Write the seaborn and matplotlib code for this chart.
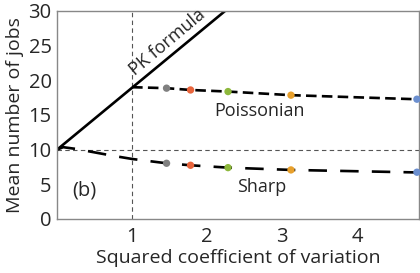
import numpy as np
import pandas as pd
import matplotlib
matplotlib.use('Agg')
import matplotlib.pyplot as plt
import seaborn as sns

sns.set_style('white')
plt.rcParams['font.family'] = ['Open Sans', 'DejaVu Sans']

# PK formula (straight line from the origin of the plot)
pk_x = [0.0, 2.6]
pk_y = [10.0, 33.2]

# Poissonian curve starts where the PK line meets cv^2 = 1
pois_x = [1.0, 1.46, 1.78, 2.28, 3.12, 4.83]
pois_y = [19.0, 18.86, 18.6, 18.37, 17.85, 17.25]

sharp_x = [0.0, 0.08, 0.25, 0.5, 0.75, 1.0, 1.46, 1.78, 2.28, 3.12, 4.83]
sharp_y = [10.0, 10.35, 10.1, 9.6, 9.1, 8.65, 8.03, 7.74, 7.4, 7.07, 6.7]

# coloured markers for the simulated distributions
pt_x = [1.46, 1.78, 2.28, 3.12, 4.8]
pt_pois = [18.86, 18.6, 18.37, 17.85, 17.27]
pt_sharp = [8.03, 7.74, 7.4, 7.07, 6.74]
pt_colors = ['#808080', '#e8643c', '#8db83c', '#e8a02c', '#6b8fcf']

fig = plt.figure(figsize=(4.2, 2.73), dpi=100)
ax = fig.add_axes([0.136, 0.198, 0.862, 0.762])

ax.axvline(1, color='#555555', lw=0.8, ls=(0, (4, 3)), zorder=1)
ax.axhline(10, color='#555555', lw=0.8, ls=(0, (4, 3)), zorder=1)

sns.lineplot(x=pk_x, y=pk_y, ax=ax, color='black', lw=1.9, zorder=2)
sns.lineplot(x=pois_x, y=pois_y, ax=ax, color='black', lw=1.9, zorder=2,
             linestyle=(0, (4, 2)))
sns.lineplot(x=sharp_x, y=sharp_y, ax=ax, color='black', lw=1.9, zorder=2,
             linestyle=(0, (7, 5)))

pts = pd.DataFrame({'x': pt_x * 2, 'y': pt_pois + pt_sharp,
                    'c': list(range(5)) * 2})
sns.scatterplot(data=pts, x='x', y='y', hue='c', palette=pt_colors, s=28,
                edgecolor='none', legend=False, ax=ax, zorder=3, clip_on=False)

ax.set_xlim(0, 4.83)
ax.set_ylim(0, 30)
ax.set_xticks([1, 2, 3, 4])
ax.set_yticks([0, 5, 10, 15, 20, 25, 30])
ax.tick_params(direction='in', length=3, color='#888888', labelsize=14.5)
ax.tick_params(axis='x', pad=6)
ax.tick_params(axis='y', pad=4)
for s in ax.spines.values():
    s.set_color('#888888')
    s.set_linewidth(1.0)

ax.set_xlabel('Squared coefficient of variation', fontsize=14, labelpad=1)
ax.set_ylabel('Mean number of jobs', fontsize=14, labelpad=3)

ax.text(1.04, 20.6, 'PK formula', rotation=40, fontsize=13,
        ha='left', va='baseline', rotation_mode='anchor')
ax.text(2.1, 14.9, 'Poissonian', fontsize=13)
ax.text(2.4, 3.9, 'Sharp', fontsize=13)
ax.text(0.2, 3.4, '(b)', fontsize=14.5)

fig.savefig('out.png', dpi=100)
